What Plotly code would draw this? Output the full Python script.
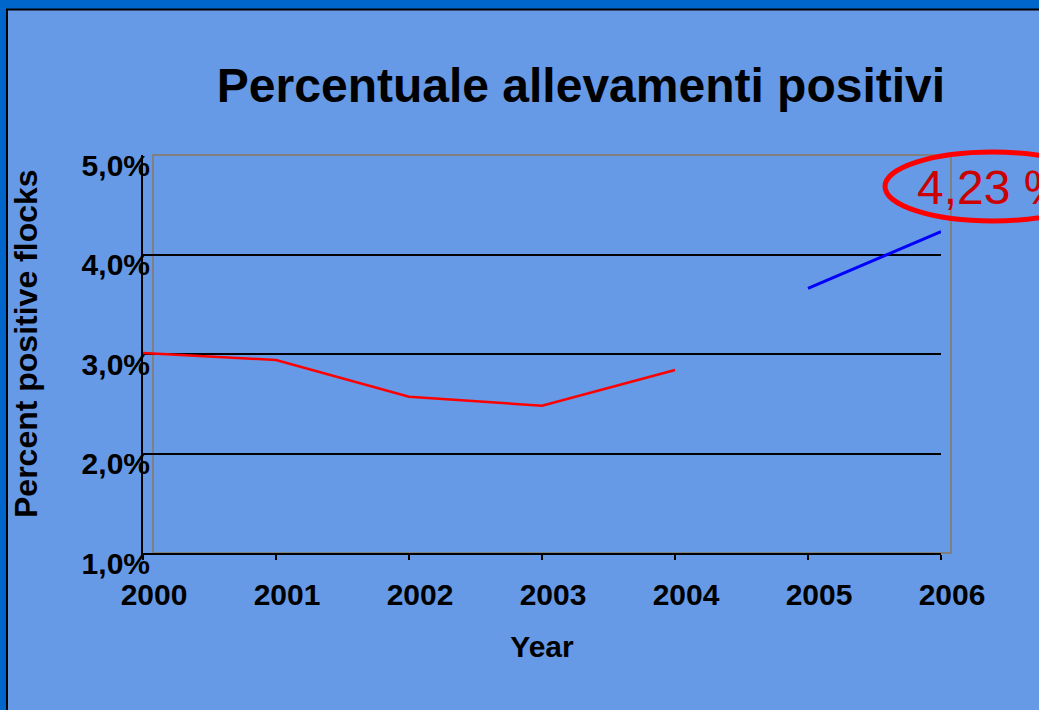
import plotly.graph_objects as go

# Percent of positive flocks per year
years_a = [2000, 2001, 2002, 2003, 2004]
pct_a = [3.01, 2.94, 2.57, 2.48, 2.84]
years_b = [2005, 2006]
pct_b = [3.66, 4.23]

x_ticks = [2000, 2001, 2002, 2003, 2004, 2005, 2006]
y_ticks = [1, 2, 3, 4, 5]
y_labels = ["1,0%", "2,0%", "3,0%", "4,0%", "5,0%"]

W, H = 1039, 710
L, R, T, B = 143, 941, 155, 553  # plot area in pixels


def px(xp):
    return (xp - L) / (R - L)


def py(yp):
    return (B - yp) / (B - T)


BG = "#6699E6"
FRAME = "#0066CC"
FONT = "Liberation Sans, Arial, sans-serif"

fig = go.Figure()
fig.add_trace(go.Scatter(x=years_a, y=pct_a, mode="lines",
                         line=dict(color="#FF0000", width=2.5), showlegend=False))
fig.add_trace(go.Scatter(x=years_b, y=pct_b, mode="lines",
                         line=dict(color="#0000FF", width=3), showlegend=False))

shapes = [
    # grey plot-area frame
    dict(type="rect", xref="paper", yref="paper", x0=px(153), x1=px(951), y0=0, y1=1,
         line=dict(color="#808080", width=2), layer="below"),
    # slide frame: top and left bands
    dict(type="rect", xref="paper", yref="paper", x0=px(0), x1=px(W), y0=py(9), y1=py(0),
         fillcolor=FRAME, line=dict(width=0)),
    dict(type="rect", xref="paper", yref="paper", x0=px(0), x1=px(6), y0=py(H), y1=py(0),
         fillcolor=FRAME, line=dict(width=0)),
    dict(type="line", xref="paper", yref="paper", x0=px(6), x1=px(W), y0=py(9.5), y1=py(9.5),
         line=dict(color="black", width=2)),
    dict(type="line", xref="paper", yref="paper", x0=px(7), x1=px(7), y0=py(9), y1=py(H),
         line=dict(color="black", width=2)),
    # highlight ellipse around the last value
    dict(type="circle", xref="paper", yref="paper", x0=px(885), x1=px(1100), y0=py(221), y1=py(152),
         line=dict(color="#FF0000", width=5)),
]

fig.update_layout(
    width=W, height=H,
    margin=dict(l=L, r=W - R, t=T, b=H - B),
    paper_bgcolor=BG, plot_bgcolor=BG,
    font=dict(family=FONT, color="black"),
    title=dict(text="Percentuale allevamenti positivi", x=581 / W, xanchor="center",
               y=1 - 85 / H, yanchor="middle", yref="container",
               font=dict(family=FONT, size=48, weight="bold", color="black")),
    shapes=shapes,
    annotations=[
        dict(text="4,23 %", xref="paper", yref="paper", x=px(992), y=py(187),
             xanchor="center", yanchor="middle", showarrow=False,
             font=dict(family=FONT, size=48, color="#CC0000")),
        dict(text="Percent positive flocks", xref="paper", yref="paper", x=px(26), y=py(344),
             xanchor="center", yanchor="middle", showarrow=False, textangle=-90,
             font=dict(family=FONT, size=32, weight="bold", color="black")),
    ],
    showlegend=False,
)

fig.update_xaxes(
    range=[2000, 2006], tickvals=x_ticks, ticktext=[str(v) for v in x_ticks],
    showgrid=False, zeroline=False,
    showline=True, linecolor="black", linewidth=2,
    ticks="outside", ticklen=5, tickwidth=2, tickcolor="black",
    tickfont=dict(family=FONT, size=30, weight="bold"),
    ticklabelshift=11, ticklabelstandoff=9,
    title=dict(text="Year", font=dict(family=FONT, size=30, weight="bold"), standoff=26),
)
fig.update_yaxes(
    range=[1, 5], tickvals=y_ticks, ticktext=y_labels,
    showgrid=True, gridcolor="black", gridwidth=2, zeroline=False,
    showline=True, linecolor="black", linewidth=2,
    ticks="",
    tickfont=dict(family=FONT, size=30, weight="bold"),
    ticklabelshift=10, ticklabelstandoff=-15,
)

fig.write_html("out.html")
